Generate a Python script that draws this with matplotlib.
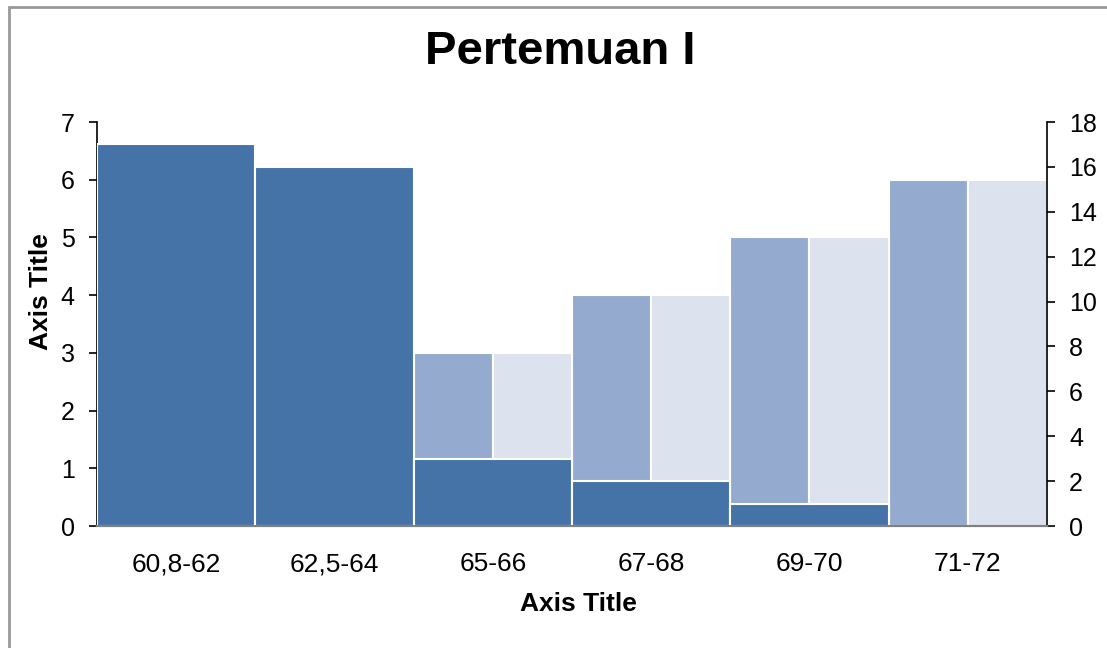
import matplotlib.pyplot as plt
from matplotlib.patches import Rectangle
import numpy as np

plt.rcParams['font.family'] = ['Liberation Sans', 'DejaVu Sans']

categories = ['60,8-62', '62,5-64', '65-66', '67-68', '69-70', '71-72']
series_a = [0, 0, 3, 4, 5, 6]          # primary axis, left half
series_b = [0, 0, 3, 4, 5, 6]          # primary axis, right half
frequency = [17, 16, 3, 2, 1, 0]       # secondary axis, full width

c_dark = '#4573A7'
c_mid = '#94ABCF'
c_light = '#DCE2EE'

fig = plt.figure(figsize=(11.07, 6.48), dpi=100)
ax = fig.add_axes([97 / 1107, 1 - 526 / 648, 950 / 1107, 404 / 648])

x = np.arange(len(categories))
ax.bar(x - 0.25, series_a, width=0.5, color=c_mid, edgecolor='white', linewidth=1.5)
ax.bar(x + 0.25, series_b, width=0.5, color=c_light, edgecolor='white', linewidth=1.5)
ax.set_xlim(-0.5, len(categories) - 0.5)
ax.set_ylim(0, 7)
ax.set_yticks(range(0, 8))

ax2 = ax.twinx()
ax2.bar(x, frequency, width=1.0, color=c_dark, edgecolor='white', linewidth=1.5)
ax2.set_ylim(0, 18)
ax2.set_yticks(range(0, 19, 2))

for a in (ax, ax2):
    a.spines['top'].set_visible(False)
    a.spines['bottom'].set_color('#808080')
    a.spines['bottom'].set_linewidth(1.5)
    a.spines['left'].set_linewidth(1.2)
    a.spines['right'].set_linewidth(1.2)
    a.tick_params(axis='y', labelsize=18, length=6, width=1.2)
ax.tick_params(axis='y', pad=10)
ax2.tick_params(axis='y', pad=10)
ax.spines['right'].set_visible(False)
ax2.spines['left'].set_visible(False)

ax.set_xticks(x)
ax.set_xticklabels(categories)
ax.tick_params(axis='x', length=0, labelsize=19, pad=19)

ax.set_xlabel('Axis Title', fontsize=19, fontweight='bold')
ax.set_ylabel('Axis Title', fontsize=19, fontweight='bold')
ax.yaxis.set_label_coords(-0.046, (526 - 292) / 404)
ax.xaxis.set_label_coords(0.507, -0.193)
ax.xaxis.label.set_va('center')

fig.text(560 / 1107, 1 - 52 / 648, 'Pertemuan I', fontsize=34, fontweight='bold',
         ha='center', va='center')

fig.patches.append(Rectangle((9 / 1107, -0.1), 1.2, 1 - 7 / 648 + 0.1,
                             transform=fig.transFigure, fill=False,
                             edgecolor='#999999', linewidth=2))

fig.savefig('out.png', dpi=100)
